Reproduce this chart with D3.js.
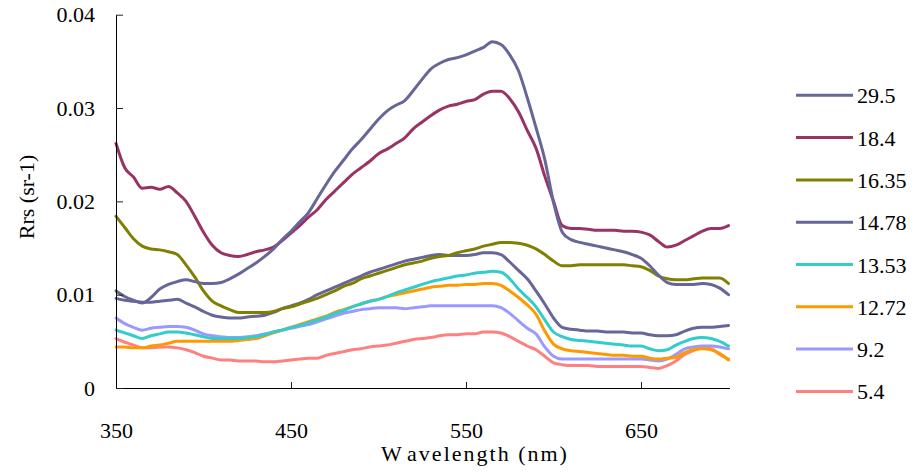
<!DOCTYPE html>
<html><head><meta charset="utf-8">
<script src="https://cdn.jsdelivr.net/npm/d3@7"></script>
<style>body{margin:0;background:#fff}svg{display:block}text{font-family:"Liberation Serif","Times New Roman",serif;fill:#000}</style>
</head><body><svg id="c" width="913" height="472"></svg>
<script>
const wavelengths = d3.range(350, 701, 5);
const seriesNames = ["29.5","18.4","16.35","14.78","13.53","12.72","9.2","5.4"];
const seriesColors = ["#666699","#993366","#808000","#666699","#33CCCC","#FF9900","#9999FF","#FF8080"];
const s29_5 = [0.0104,0.0098,0.0094,0.0091,0.0097,0.0106,0.0111,0.0114,0.0116,0.0114,0.0112,0.0112,0.0113,0.0117,0.0122,0.0128,0.0134,0.0141,0.0149,0.0159,0.0168,0.0178,0.0188,0.0203,0.0218,0.0232,0.0244,0.0256,0.0266,0.0277,0.0288,0.0297,0.0303,0.0308,0.0319,0.0331,0.0342,0.0348,0.0352,0.0354,0.0357,0.0361,0.0365,0.0371,0.0368,0.0357,0.0340,0.0311,0.0279,0.0245,0.0199,0.0167,0.0159,0.0156,0.0154,0.0152,0.0150,0.0148,0.0146,0.0143,0.0139,0.0131,0.0121,0.0113,0.0111,0.0111,0.0111,0.0112,0.0111,0.0107,0.0100];
const s18_4 = [0.0262,0.0236,0.0226,0.0214,0.0215,0.0213,0.0216,0.0209,0.0200,0.0184,0.0167,0.0153,0.0145,0.0142,0.0141,0.0143,0.0146,0.0148,0.0151,0.0158,0.0166,0.0174,0.0183,0.0191,0.0202,0.0211,0.0220,0.0229,0.0236,0.0243,0.0251,0.0256,0.0262,0.0268,0.0278,0.0285,0.0292,0.0298,0.0302,0.0304,0.0307,0.0309,0.0315,0.0318,0.0318,0.0310,0.0296,0.0276,0.0257,0.0227,0.0200,0.0174,0.0171,0.0171,0.0170,0.0169,0.0169,0.0169,0.0168,0.0168,0.0167,0.0164,0.0157,0.0151,0.0153,0.0158,0.0163,0.0168,0.0171,0.0171,0.0174];
const s16_35 = [0.0184,0.0172,0.0160,0.0152,0.0149,0.0148,0.0146,0.0143,0.0132,0.0119,0.0104,0.0093,0.0088,0.0084,0.0081,0.0081,0.0081,0.0081,0.0082,0.0085,0.0087,0.0090,0.0093,0.0096,0.0100,0.0104,0.0109,0.0112,0.0117,0.0120,0.0123,0.0126,0.0129,0.0132,0.0134,0.0136,0.0139,0.0141,0.0142,0.0145,0.0147,0.0149,0.0152,0.0154,0.0156,0.0156,0.0155,0.0153,0.0149,0.0143,0.0136,0.0131,0.0131,0.0132,0.0132,0.0132,0.0132,0.0132,0.0132,0.0131,0.0130,0.0126,0.0120,0.0117,0.0116,0.0116,0.0117,0.0118,0.0118,0.0118,0.0112];
const s14_78 = [0.0096,0.0094,0.0093,0.0092,0.0092,0.0093,0.0094,0.0095,0.0091,0.0087,0.0082,0.0078,0.0076,0.0075,0.0075,0.0076,0.0077,0.0078,0.0081,0.0085,0.0088,0.0091,0.0095,0.0100,0.0104,0.0108,0.0112,0.0116,0.0120,0.0124,0.0127,0.0130,0.0133,0.0136,0.0138,0.0140,0.0142,0.0143,0.0142,0.0142,0.0142,0.0143,0.0145,0.0145,0.0143,0.0135,0.0126,0.0117,0.0104,0.0090,0.0075,0.0065,0.0063,0.0062,0.0061,0.0061,0.0060,0.0060,0.0060,0.0059,0.0059,0.0057,0.0056,0.0056,0.0057,0.0061,0.0064,0.0065,0.0065,0.0066,0.0067];
const s13_53 = [0.0062,0.0059,0.0056,0.0053,0.0056,0.0058,0.0060,0.0060,0.0059,0.0057,0.0055,0.0053,0.0053,0.0053,0.0053,0.0054,0.0055,0.0057,0.0060,0.0062,0.0065,0.0067,0.0070,0.0073,0.0076,0.0080,0.0083,0.0087,0.0090,0.0093,0.0095,0.0098,0.0102,0.0105,0.0108,0.0111,0.0114,0.0116,0.0118,0.0120,0.0121,0.0123,0.0124,0.0125,0.0124,0.0117,0.0106,0.0097,0.0087,0.0073,0.0060,0.0055,0.0052,0.0051,0.0050,0.0049,0.0048,0.0047,0.0046,0.0045,0.0045,0.0042,0.0040,0.0041,0.0046,0.0050,0.0053,0.0054,0.0053,0.0050,0.0045];
const s12_72 = [0.0044,0.0044,0.0043,0.0043,0.0045,0.0046,0.0048,0.0050,0.0050,0.0050,0.0050,0.0050,0.0050,0.0050,0.0051,0.0052,0.0053,0.0056,0.0059,0.0062,0.0065,0.0068,0.0071,0.0074,0.0077,0.0081,0.0084,0.0087,0.0090,0.0093,0.0095,0.0098,0.0100,0.0102,0.0104,0.0106,0.0108,0.0109,0.0110,0.0110,0.0111,0.0111,0.0112,0.0112,0.0110,0.0104,0.0097,0.0089,0.0079,0.0061,0.0047,0.0042,0.0040,0.0039,0.0038,0.0037,0.0036,0.0035,0.0035,0.0034,0.0034,0.0032,0.0031,0.0032,0.0033,0.0038,0.0041,0.0042,0.0041,0.0037,0.0030];
const s9_2 = [0.0075,0.0069,0.0065,0.0062,0.0064,0.0065,0.0066,0.0066,0.0065,0.0062,0.0058,0.0056,0.0055,0.0054,0.0054,0.0055,0.0056,0.0058,0.0060,0.0062,0.0064,0.0066,0.0068,0.0071,0.0074,0.0077,0.0080,0.0082,0.0084,0.0085,0.0086,0.0086,0.0086,0.0085,0.0086,0.0087,0.0088,0.0088,0.0088,0.0088,0.0088,0.0088,0.0088,0.0088,0.0086,0.0080,0.0072,0.0064,0.0058,0.0044,0.0034,0.0031,0.0031,0.0031,0.0031,0.0031,0.0031,0.0031,0.0031,0.0031,0.0031,0.0030,0.0029,0.0031,0.0036,0.0042,0.0044,0.0045,0.0045,0.0044,0.0042];
const s5_4 = [0.0053,0.0049,0.0046,0.0043,0.0043,0.0044,0.0044,0.0043,0.0041,0.0038,0.0034,0.0032,0.0030,0.0030,0.0029,0.0029,0.0029,0.0028,0.0028,0.0029,0.0030,0.0031,0.0032,0.0032,0.0035,0.0037,0.0039,0.0041,0.0042,0.0044,0.0045,0.0046,0.0048,0.0050,0.0052,0.0053,0.0054,0.0056,0.0057,0.0057,0.0058,0.0058,0.0060,0.0060,0.0059,0.0055,0.0050,0.0045,0.0041,0.0034,0.0027,0.0025,0.0024,0.0024,0.0024,0.0023,0.0023,0.0023,0.0023,0.0023,0.0023,0.0022,0.0021,0.0024,0.0029,0.0036,0.0040,0.0043,0.0042,0.0036,0.0031];
const xTicks = [350,450,550,650];
const yTicks = [0,0.01,0.02,0.03,0.04];
const yTickLabels = ["0","0.01","0.02","0.03","0.04"];

const seriesValues = [s29_5,s18_4,s16_35,s14_78,s13_53,s12_72,s9_2,s5_4];
const svg = d3.select("#c");
const x = d3.scaleLinear().domain([350,700]).range([116,728.5]);
const y = d3.scaleLinear().domain([0,0.04]).range([388,14.7]);

const line = d3.line().curve(d3.curveMonotoneX).x((d,i)=>x(wavelengths[i])).y(d=>y(d));
const order = d3.range(seriesValues.length).reverse();
svg.append("g").selectAll("path").data(order).join("path")
  .attr("d", i=>line(seriesValues[i]))
  .attr("fill","none").attr("stroke", i=>seriesColors[i])
  .attr("stroke-width",3).attr("stroke-linejoin","round").attr("stroke-linecap","round");

// axes
const xAxis = d3.axisBottom(x).tickValues(xTicks).tickSizeInner(-6).tickSizeOuter(0).tickPadding(34).tickFormat(d3.format("d"));
const gx = svg.append("g").attr("transform","translate(0,388)").call(xAxis);
gx.select(".domain").attr("stroke","#000").attr("d","M116,0.5H730");
gx.selectAll(".tick line").attr("stroke","#222");
gx.selectAll(".tick text").attr("font-size",22);

const yAxis = d3.axisLeft(y).tickValues(yTicks).tickSizeInner(-7).tickSizeOuter(0).tickPadding(21)
  .tickFormat((d,i)=>yTickLabels[i]);
const gy = svg.append("g").attr("transform","translate(116,0)").call(yAxis);
gy.select(".domain").attr("stroke","#000");
gy.selectAll(".tick line").attr("stroke","#222");
gy.selectAll(".tick text").attr("font-size",22);

// titles
svg.append("text").attr("transform","translate(34,197) rotate(-90)").attr("text-anchor","middle")
  .attr("font-size",22).text("Rrs (sr-1)");
const xt = svg.append("text").attr("x",475).attr("y",461).attr("text-anchor","middle")
  .attr("font-size",22).attr("letter-spacing","2px");
xt.append("tspan").text("W");
xt.append("tspan").attr("dx",5).text("avelength (nm)");

// legend
const lg = svg.append("g").selectAll("g").data(seriesNames).join("g")
  .attr("transform",(d,i)=>`translate(796,${95.3+i*42.3})`);
lg.append("line").attr("x1",0).attr("x2",57).attr("stroke",(d,i)=>seriesColors[i]).attr("stroke-width",3);
lg.append("text").attr("x",61).attr("y",8).attr("font-size",22).text(d=>d);
</script></body></html>
